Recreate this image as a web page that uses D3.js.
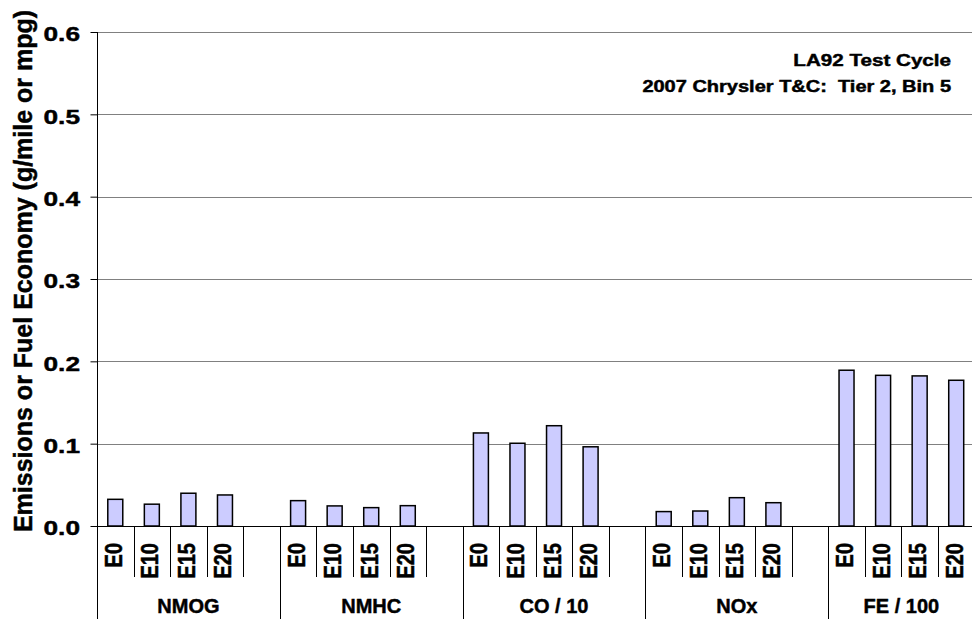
<!DOCTYPE html>
<html>
<head>
<meta charset="utf-8">
<script src="https://cdn.jsdelivr.net/npm/d3@7"></script>
<style>
  body { margin: 0; background: #fff; }
  svg text { font-family: "Liberation Sans", Arial, Helvetica, sans-serif; font-weight: bold; fill: #000; stroke: #000; stroke-width: 0.45px; white-space: pre; }
</style>
</head>
<body>
<svg width="972" height="621"></svg>
<script>
// chart values
const groups = ["NMOG", "NMHC", "CO / 10", "NOx", "FE / 100"];
const fuels = ["E0", "E10", "E15", "E20"];
const nmog = [0.0324, 0.0265, 0.0398, 0.0377];
const nmhc = [0.0308, 0.0244, 0.0223, 0.0247];
const co10 = [0.1130, 0.1005, 0.1218, 0.0962];
const nox = [0.0175, 0.0182, 0.0344, 0.0283];
const fe100 = [0.1892, 0.1830, 0.1823, 0.1770];
const yTicks = [0.0, 0.1, 0.2, 0.3, 0.4, 0.5, 0.6];
const yTitle = "Emissions or Fuel Economy (g/mile or mpg)";
const noteLines = ["LA92 Test Cycle", "2007 Chrysler T&C:  Tier 2, Bin 5"];

const seriesByGroup = [nmog, nmhc, co10, nox, fe100];

// one slot per bar, plus an empty slot after each group except the last
const slots = [];
groups.forEach(function(g, gi) {
    fuels.forEach(function(f, fi) {
        slots.push({key: g + "|" + f, group: g, fuel: f, value: seriesByGroup[gi][fi], first: fi == 0});
    });
    if (gi < groups.length - 1) {
        slots.push({key: g + "|gap", group: g, fuel: null, value: null, first: false});
    }
});

const svg = d3.select("svg");
const plotLeft = 97, plotRight = 974.5, plotTop = 32, plotBottom = 526;

const x = d3.scaleBand().domain(slots.map(function(d) { return d.key; })).range([plotLeft, plotRight]).paddingInner(0).paddingOuter(0);
const y = d3.scaleLinear().domain([0, 0.6]).range([plotBottom, plotTop]);
const crisp = function(v) { return Math.round(v) + 0.5; };

// gridlines
svg.append("g")
    .selectAll("line")
    .data(yTicks.filter(function(t) { return t > 0; }))
    .enter().append("line")
    .attr("x1", plotLeft).attr("x2", 972)
    .attr("y1", function(d) { return crisp(y(d)); })
    .attr("y2", function(d) { return crisp(y(d)); })
    .style("stroke", "#808080")
    .style("stroke-width", 1);

// y axis
const yAxis = svg.append("g")
    .attr("transform", "translate(" + crisp(plotLeft) + ",0)")
    .call(d3.axisLeft(y).tickValues(yTicks).tickSize(7).tickSizeOuter(0).tickFormat(d3.format(".1f")));
yAxis.select(".domain").remove();
yAxis.selectAll(".tick line").style("stroke", "#000");
const tickSx = 1.25;
yAxis.selectAll(".tick text")
    .attr("x", -17.5 / tickSx)
    .attr("dy", "0.42em")
    .attr("transform", "scale(" + tickSx + ",1)")
    .attr("font-family", null)
    .attr("font-size", null)
    .style("font-size", "21px");

// bars
const barW = x.bandwidth() * 0.41;
svg.append("g")
    .selectAll("rect")
    .data(slots.filter(function(d) { return d.value != null; }))
    .enter().append("rect")
    .attr("x", function(d) { return x(d.key) + (x.bandwidth() - barW) / 2; })
    .attr("width", barW)
    .attr("y", function(d) { return y(d.value); })
    .attr("height", function(d) { return y(0) - y(d.value); })
    .style("fill", "#CCCCFF")
    .style("stroke", "#000")
    .style("stroke-width", 1.5);

// axis lines
svg.append("line")
    .attr("x1", crisp(plotLeft)).attr("x2", crisp(plotLeft))
    .attr("y1", plotTop).attr("y2", 619)
    .style("stroke", "#000");
svg.append("line")
    .attr("x1", plotLeft).attr("x2", 972)
    .attr("y1", crisp(plotBottom)).attr("y2", crisp(plotBottom))
    .style("stroke", "#000");

// category separators: short ones inside a group, long ones between groups
svg.append("g")
    .selectAll("line")
    .data(slots.filter(function(d, i) { return i > 0; }))
    .enter().append("line")
    .attr("x1", function(d) { return crisp(x(d.key)); })
    .attr("x2", function(d) { return crisp(x(d.key)); })
    .attr("y1", plotBottom)
    .attr("y2", function(d) { return d.first ? 619 : 577; })
    .style("stroke", "#000");

// fuel labels (rotated)
const fuelSx = 1.15;
svg.append("g")
    .selectAll("text")
    .data(slots.filter(function(d) { return d.fuel != null; }))
    .enter().append("text")
    .attr("transform", function(d) {
        return "translate(" + (x(d.key) + x.bandwidth() / 2 + 6.5) + ",543) scale(" + fuelSx + ",1) rotate(-90)";
    })
    .attr("text-anchor", "end")
    .style("font-size", "20px")
    .text(function(d) { return d.fuel; });

// group labels
svg.append("g")
    .selectAll("text")
    .data(groups)
    .enter().append("text")
    .attr("x", function(g) {
        const keys = slots.filter(function(d) { return d.group == g; });
        const x0 = x(keys[0].key);
        const x1 = x(keys[keys.length - 1].key) + x.bandwidth();
        return (x0 + Math.min(x1, plotRight)) / 2;
    })
    .attr("y", 613)
    .attr("text-anchor", "middle")
    .style("font-size", "20px")
    .text(function(g) { return g; });

// y title
svg.append("text")
    .attr("transform", "translate(32," + ((10 + 532) / 2) + ") scale(1.05,1) rotate(-90)")
    .attr("text-anchor", "middle")
    .style("font-size", "25px")
    .text(yTitle);

// note in the top right corner
const noteSx = 1.25;
svg.append("g")
    .selectAll("text")
    .data(noteLines)
    .enter().append("text")
    .attr("transform", function(d, i) { return "translate(951," + (65.5 + i * 26.5) + ") scale(" + noteSx + ",1)"; })
    .attr("text-anchor", "end")
    .style("font-size", function(d, i) { return i == 0 ? "16.5px" : "16px"; })
    .text(function(d) { return d; });
</script>
</body>
</html>
